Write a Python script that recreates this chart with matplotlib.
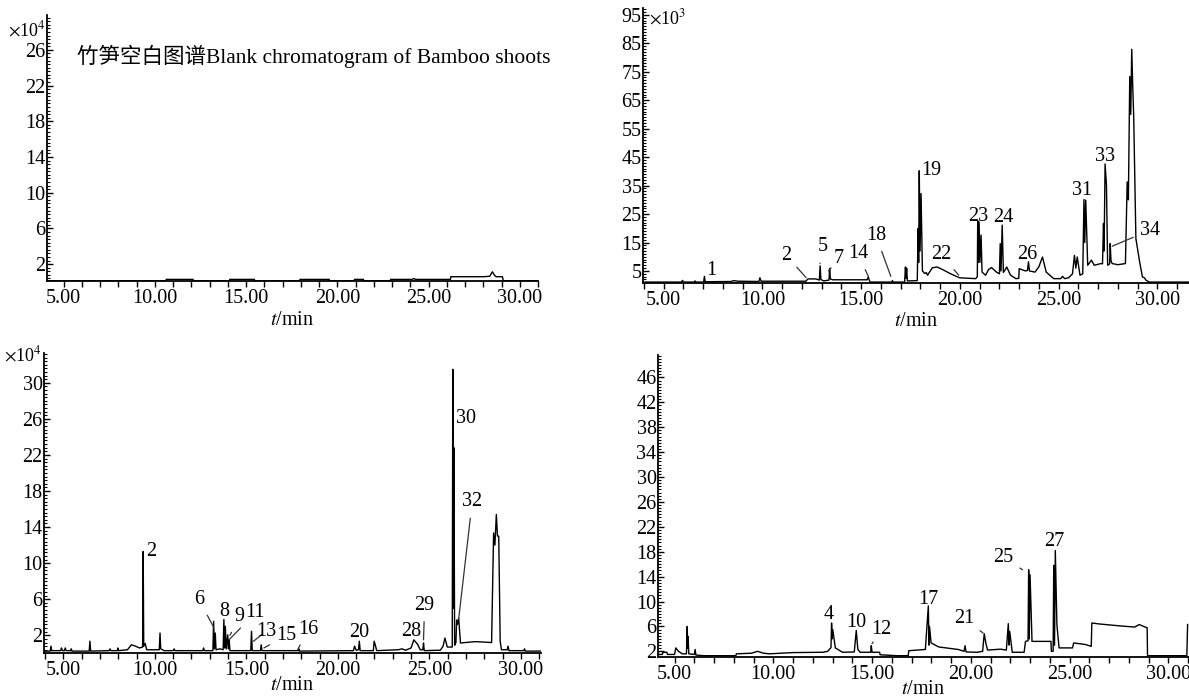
import matplotlib.pyplot as plt
from matplotlib.ticker import MultipleLocator

plt.rcParams['font.family'] = ['Liberation Serif', 'Noto Sans CJK SC']
plt.rcParams['mathtext.fontset'] = 'stix'

# --- blank chromatogram (top left), x10^4 ---
blank_t = [4.08, 10.6, 10.62, 12.09, 12.1, 14.08, 14.1, 15.45, 15.47, 17.93, 17.95,
           19.55, 19.57, 20.92, 20.94, 21.43, 21.45, 22.9, 22.92, 24.1, 24.19, 24.28,
           26.2, 26.22, 28.0, 28.35, 28.5, 28.62, 28.7, 29.05, 29.1, 31.1]
blank_v = [0.15, 0.15, 0.3, 0.3, 0.15, 0.15, 0.3, 0.3, 0.15, 0.15, 0.3,
           0.3, 0.15, 0.15, 0.3, 0.3, 0.15, 0.15, 0.3, 0.3, 0.4, 0.3,
           0.3, 0.6, 0.6, 0.65, 1.15, 0.75, 0.6, 0.6, 0.15, 0.15]

# --- sample chromatogram (top right), x10^3 ---
tr_t = [4.05, 5.9, 5.95, 6.0, 6.55, 6.58, 6.62, 7.02, 7.06, 7.1, 8.4, 8.55, 8.75, 9.82, 9.87,
        9.93, 12.2, 12.3, 12.7, 12.88, 12.92, 12.96, 13.1, 13.37, 13.4, 13.44, 13.55, 15.3,
        15.36, 15.4, 15.45, 16.55, 16.58, 16.62, 17.2, 17.24, 17.27, 17.3, 17.34, 17.84,
        17.88, 17.91, 17.94, 17.98, 18.03, 18.1, 18.22, 18.3, 18.36, 18.6, 18.84, 19.12,
        19.5, 19.98, 20.8, 20.88, 20.9, 20.93, 20.97, 21.01, 21.07, 21.12, 21.3, 21.45,
        21.6, 21.85, 22.0, 22.04, 22.08, 22.14, 22.2, 22.3, 22.37, 22.56, 22.84, 22.98,
        23.0, 23.32, 23.42, 23.47, 23.52, 23.8, 24.0, 24.18, 24.37, 24.75, 25.1, 25.2,
        25.3, 25.5, 25.7, 25.8, 25.87, 25.94, 26.08, 26.22, 26.28, 26.32, 26.37, 26.47,
        26.66, 26.8, 27.14, 27.22, 27.27, 27.3, 27.35, 27.42, 27.48, 27.58, 27.61, 27.65,
        27.71, 28.0, 28.38, 28.47, 28.53, 28.6, 28.65, 28.7, 28.75, 28.8, 28.91, 29.1,
        29.24, 29.34, 29.43, 29.6, 31.6]
tr_v = [1.1, 1.1, 1.7, 1.1, 1.1, 1.5, 1.1, 1.1, 3.1, 1.2, 1.3, 1.6, 1.4, 1.3, 2.6,
        1.4, 1.4, 2.2, 2.2, 1.8, 6.8, 2.0, 1.5, 1.8, 5.8, 2.2, 1.9, 1.9,
        2.9, 1.9, 1.1, 1.1, 1.6, 1.1, 1.1, 6.4, 2.5, 6.0, 1.5, 1.6,
        19.9, 8.0, 40.2, 12.0, 32.2, 5.0, 4.1, 4.4, 3.5, 6.1, 6.4, 5.5,
        4.1, 2.6, 2.3, 3.0, 22.6, 8.0, 22.2, 8.0, 17.6, 4.6, 3.5, 5.5,
        6.2, 4.6, 4.0, 14.6, 5.0, 21.1, 4.5, 5.5, 6.4, 3.5, 2.3, 2.4,
        5.8, 5.0, 5.2, 8.2, 5.0, 4.6, 6.5, 9.9, 4.6, 2.3, 2.3, 3.1,
        2.3, 2.6, 4.0, 10.5, 6.0, 9.9, 3.5, 4.0, 30.1, 15.0, 29.9, 7.0,
        8.8, 7.0, 7.6, 7.5, 21.7, 12.0, 42.6, 35.2, 7.0, 7.5, 14.6, 8.5,
        7.6, 7.2, 7.6, 36.3, 30.0, 73.3, 60.0, 82.9, 70.0, 59.2, 16.4, 8.2,
        2.9, 2.6, 1.7, 1.1, 1.1]

# --- sample chromatogram (bottom left), x10^4 ---
bl_t = [3.94, 4.28, 4.32, 4.36, 4.85, 4.89, 4.95, 5.06, 5.1, 5.15, 5.4, 5.43, 5.47, 6.41,
        6.45, 6.49, 7.5, 7.55, 7.6, 7.95, 7.98, 8.02, 8.5, 8.72, 8.94, 9.15, 9.33, 9.36,
        9.39, 9.47, 9.55, 10.24, 10.28, 10.32, 10.5, 11.0, 11.05, 11.1, 12.62, 12.66, 12.7,
        13.17, 13.21, 13.25, 13.3, 13.34, 13.55, 13.73, 13.77, 13.81, 13.85, 13.9, 13.98,
        14.02, 14.06, 14.1, 15.24, 15.28, 15.32, 15.77, 15.81, 15.85, 17.85, 17.87, 17.9,
        20.85, 20.91, 21.0, 21.13, 21.17, 21.22, 21.94, 21.98, 22.05, 22.12, 23.3, 23.5,
        23.7, 24.0, 24.15, 24.36, 24.5, 24.64, 24.68, 24.72, 25.6, 25.75, 25.85, 25.98,
        26.25, 26.28, 26.31, 26.34, 26.38, 26.45, 26.49, 26.53, 26.6, 26.7, 27.5, 28.0,
        28.4, 28.51, 28.58, 28.66, 28.72, 28.79, 28.87, 28.94, 29.25, 29.3, 29.35, 30.16,
        30.2, 30.24, 31.13]
bl_v = [0.25, 0.25, 0.8, 0.3, 0.3, 0.6, 0.3, 0.3, 0.6, 0.3, 0.3, 0.5, 0.25, 0.25,
        1.35, 0.25, 0.3, 0.5, 0.3, 0.3, 0.6, 0.3, 0.4, 0.95, 0.8, 0.6, 0.7, 11.3,
        0.8, 1.1, 0.4, 0.4, 2.25, 0.5, 0.3, 0.3, 0.5, 0.3, 0.3, 0.6, 0.3,
        0.3, 3.55, 0.5, 2.25, 0.4, 0.5, 0.4, 3.75, 0.6, 3.0, 0.5, 2.05,
        0.5, 1.5, 0.3, 0.3, 2.45, 0.3, 0.3, 0.95, 0.3, 0.3, 0.5, 0.25,
        0.3, 0.8, 0.35, 0.4, 1.35, 0.3, 0.3, 1.35, 0.9, 0.3, 0.4, 0.5,
        0.35, 0.6, 1.5, 1.0, 0.4, 0.4, 1.15, 0.3, 0.35, 0.8, 1.7, 0.7,
        0.7, 31.5, 5.0, 22.8, 0.9, 1.2, 3.7, 3.2, 3.9, 1.15, 1.3, 1.25,
        1.2, 13.35, 12.0, 15.4, 13.0, 13.0, 1.3, 0.4, 0.4, 0.8, 0.3, 0.3,
        0.5, 0.25, 0.25]

# --- sample chromatogram (bottom right) ---
br_t = [4.16, 4.38, 4.41, 4.61, 4.64, 5.0, 5.06, 5.2, 5.39, 5.6, 5.64, 5.66, 5.68, 5.72,
        6.0, 6.04, 6.08, 6.5, 8.1, 8.13, 8.9, 9.2, 9.5, 9.79, 11.0, 12.52, 12.75, 12.92,
        12.95, 12.98, 13.01, 13.14, 13.5, 14.1, 14.2, 14.28, 14.4, 14.93, 14.96, 15.0,
        15.38, 15.41, 16.23, 16.83, 16.86, 17.7, 17.85, 17.88, 17.91, 17.99, 18.38, 19.36,
        19.66, 19.71, 19.76, 20.33, 20.6, 20.68, 20.76, 20.85, 21.5, 21.8, 21.9, 21.94,
        21.97, 22.1, 22.7, 22.77, 22.9, 22.93, 22.96, 23.0, 23.1, 24.06, 24.08, 24.17,
        24.2, 24.24, 24.28, 24.36, 24.47, 25.15, 25.21, 25.8, 26.1, 26.13, 26.5, 27.5,
        28.3, 28.53, 28.83, 28.93, 28.95, 30.94, 30.98]
br_v = [1.5, 1.5, 1.85, 1.85, 1.5, 1.5, 2.55, 2.0, 1.6, 1.6, 6.0, 2.5, 4.4, 1.6,
        1.5, 2.3, 1.4, 1.3, 1.3, 1.6, 1.7, 2.0, 1.7, 1.6, 1.8, 1.85, 2.0, 2.6,
        6.55, 4.0, 5.5, 2.55, 1.85, 1.9, 5.35, 2.3, 1.85, 1.85, 2.9, 1.85,
        1.85, 1.45, 1.3, 1.3, 2.1, 2.3, 9.3, 3.0, 6.0, 3.35, 2.7, 2.3,
        2.0, 2.9, 1.9, 1.85, 2.0, 4.85, 3.35, 2.2, 2.35, 2.2, 6.45, 3.0,
        5.2, 1.85, 1.85, 3.6, 3.7, 15.1, 4.0, 14.3, 3.6, 3.6, 2.0, 2.0,
        15.8, 3.0, 18.2, 6.3, 2.55, 2.55, 3.35, 3.1, 2.8, 6.55, 6.4, 6.1,
        5.9, 6.3, 5.9, 5.8, 1.3, 1.3, 6.3]

# peak labels: (number, text t, text v, leader tip t, leader tip v)
tr_labels = [('1', 7.39, 5.2, None, None), ('2', 11.2, 10.5, 12.21, 2.65),
             ('5', 13.07, 13.5, 12.92, 7.6), ('7', 13.87, 9.3, 13.34, 5.0),
             ('14', 14.83, 11.1, 15.36, 3.1), ('18', 15.74, 17.6, 16.5, 3.1),
             ('19', 18.55, 40.2, None, None), ('22', 19.03, 10.9, 19.94, 3.5),
             ('23', 20.94, 24.2, None, None), ('24', 22.18, 23.8, None, None),
             ('26', 23.42, 10.9, None, None), ('31', 26.18, 33.2, None, None),
             ('33', 27.33, 45.1, None, None), ('34', 29.62, 19.3, 27.71, 13.7)]
bl_labels = [('2', 9.79, 11.3, None, None), ('6', 12.4, 6.0, 13.21, 2.9),
             ('8', 13.79, 4.66, None, None), ('9', 14.64, 4.1, 14.1, 2.0),
             ('11', 15.49, 4.5, 14.05, 1.5), ('13', 16.06, 2.44, 15.38, 1.33),
             ('15', 17.17, 1.96, 15.96, 0.6), ('16', 18.4, 2.7, 17.8, 0.41),
             ('20', 21.17, 2.26, None, None), ('28', 24.0, 2.44, None, None),
             ('29', 24.74, 5.33, 24.68, 1.5), ('30', 27.02, 26.0, None, None),
             ('32', 27.34, 16.8, 26.6, 3.8)]
br_labels = [('4', 12.81, 7.9, None, None), ('10', 14.18, 6.66, None, None),
             ('12', 15.49, 5.48, 15.0, 3.23), ('17', 17.85, 10.4, None, None),
             ('21', 19.65, 7.35, 20.62, 4.94), ('25', 21.66, 17.1, 22.62, 15.1),
             ('27', 24.24, 19.7, None, None)]

x_ticks = [5, 10, 15, 20, 25, 30]

W, H = 1189, 699
fig = plt.figure(figsize=(W / 100, H / 100), dpi=100)


def make_axes(left, top, right, bottom):
    return fig.add_axes([left / W, 1 - bottom / H, (right - left) / W, (bottom - top) / H])


panels = [
    # rect (px), xlim, ylim, yticks, y minor step, data, labels, xlabel pad
    ((47, 15, 538, 281), (4.08, 31.0), (0.12, 29.9), [2, 6, 10, 14, 18, 22, 26], 0.4,
     blank_t, blank_v, [], 2),
    ((643, 8, 1189, 283), (3.95, 31.6), (0.77, 97.4), [5, 15, 25, 35, 45, 55, 65, 75, 85, 95], 1.0,
     tr_t, tr_v, tr_labels, 1),
    ((44, 353, 541, 653), (3.94, 31.1), (0.04, 33.3), [2, 6, 10, 14, 18, 22, 26, 30], 0.4,
     bl_t, bl_v, bl_labels, -3),
    ((658, 355, 1189, 657), (4.16, 31.05), (1.09, 49.6), [2, 6, 10, 14, 18, 22, 26, 30, 34, 38, 42, 46], 0.5,
     br_t, br_v, br_labels, -3),
]

fs = 14.5
for rect, xlim, ylim, yticks, ystep, t, v, labels, lpad in panels:
    ax = make_axes(*rect)
    ax.plot(t, v, color='black', linewidth=1.0)
    ax.set_xlim(*xlim)
    ax.set_ylim(*ylim)
    for side in ['top', 'right']:
        ax.spines[side].set_visible(False)
    for side in ['left', 'bottom']:
        ax.spines[side].set_linewidth(1.3)
    ax.set_xticks(x_ticks)
    ax.set_xticklabels([f'{x:.2f}' for x in x_ticks], fontsize=fs)
    ax.xaxis.set_minor_locator(MultipleLocator(1))
    ax.set_yticks(yticks)
    ax.set_yticklabels([str(y) for y in yticks], fontsize=fs)
    ax.yaxis.set_minor_locator(MultipleLocator(ystep))
    ax.tick_params(axis='x', which='both', direction='out', length=4, width=1, pad=2)
    ax.tick_params(axis='y', which='major', direction='in', length=4, width=1, pad=1)
    ax.tick_params(axis='y', which='minor', direction='in', length=2.5, width=0.8)
    ax.set_xlabel(r'$t$/min', fontsize=fs, labelpad=lpad)
    for name, lt, lv, pt, pv in labels:
        if pt is None:
            ax.annotate(name, xy=(lt, lv), ha='center', va='center', fontsize=fs)
        else:
            ax.annotate(name, xy=(pt, pv), xytext=(lt, lv), ha='center', va='center',
                        fontsize=fs,
                        arrowprops=dict(arrowstyle='-', color='#333333', lw=0.9,
                                        shrinkA=3, shrinkB=0))
    if rect[0] == 47:
        ax.text(0.062, 0.846, '竹笋空白图谱Blank chromatogram of Bamboo shoots',
                transform=ax.transAxes, fontsize=15.5, va='center', ha='left')

fs_mult = 13
fig.text(8 / W, 1 - 30 / H, r'$\times$10$^4$', fontsize=fs_mult, ha='left', va='center')
fig.text(649 / W, 1 - 18 / H, r'$\times$10$^3$', fontsize=fs_mult, ha='left', va='center')
fig.text(4 / W, 1 - 355 / H, r'$\times$10$^4$', fontsize=fs_mult, ha='left', va='center')

fig.savefig('out.png', dpi=100)
